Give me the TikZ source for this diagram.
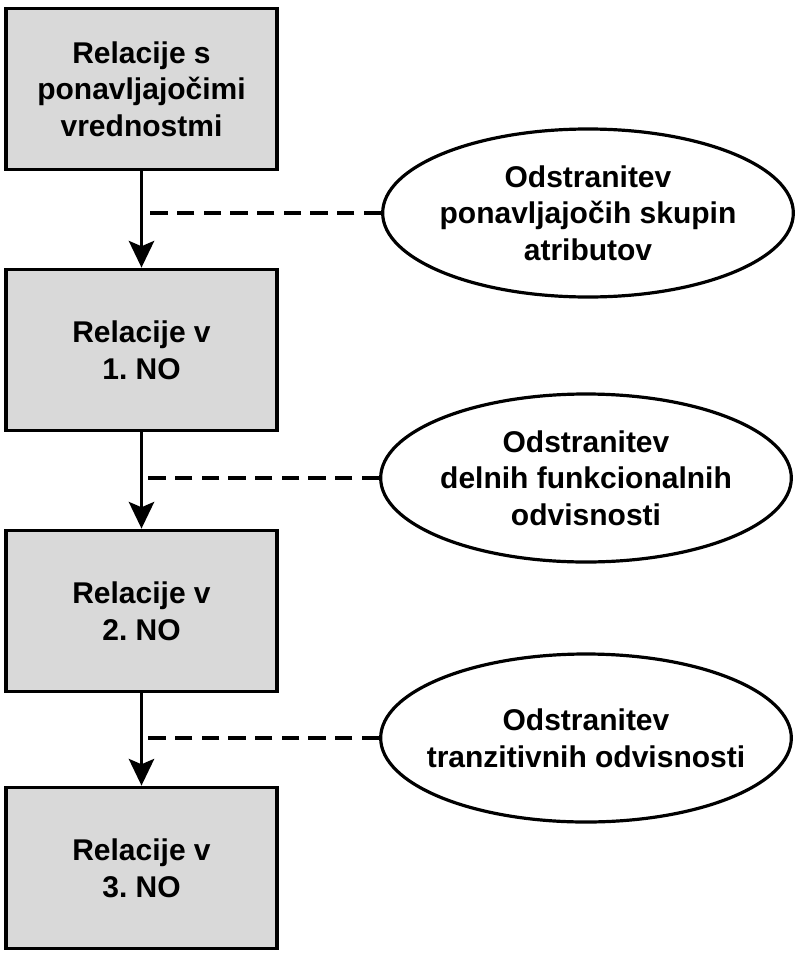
\documentclass[tikz,border=0pt]{standalone}
\usepackage{fontspec}
\setmainfont{Liberation Sans}
\usetikzlibrary{arrows.meta,shapes.geometric}
\definecolor{boxgray}{RGB}{217,217,217}

\begin{document}
\begin{tikzpicture}[x = 0.75pt, y = -0.75pt,
    font = \fontsize{22.5}{27.5}\selectfont\bfseries\frenchspacing,
    relacija/.style = {draw, line width = 2.6pt, fill = boxgray,
        minimum width = 203pt, minimum height = 121pt, align = center, inner sep = 0pt},
    postopek/.style = {draw, ellipse, line width = 2.4pt, fill = white,
        minimum width = 308pt, minimum height = 126pt, align = center,
        inner xsep = -12pt, inner ysep = 0pt},
    korak/.style = {line width = 2.4pt, -{Stealth[length = 20pt, width = 19pt, inset = 4pt]}},
    povezava/.style = {line width = 2.4pt, dash pattern = on 13pt off 7pt}]
    \useasboundingbox (0,0) rectangle (800,960);

    \node [relacija] (rel0) at (141.5,89) {Relacije s\\ponavljajočimi\\vrednostmi};
    \node [relacija] (rel1) at (141.5,350) {Relacije v\\1. NO};
    \node [relacija] (rel2) at (141.5,611) {Relacije v\\2. NO};
    \node [relacija] (rel3) at (141.5,868) {Relacije v\\3. NO};

    \node [postopek] (odst1) at (588,213) {Odstranitev\\ponavljajočih skupin\\atributov};
    \node [postopek] (odst2) at (586,478) {Odstranitev\\delnih funkcionalnih\\odvisnosti};
    \node [postopek] (odst3) at (586,738) {Odstranitev\\tranzitivnih odvisnosti};

    \draw [povezava] (odst1.west) -- (rel0.south |- odst1.west);
    \draw [povezava] (odst2.west) -- (rel1.south |- odst2.west);
    \draw [povezava] (odst3.west) -- (rel2.south |- odst3.west);

    \draw [korak] (rel0) -- (rel1);
    \draw [korak] (rel1) -- (rel2);
    \draw [korak] (rel2) -- (rel3);
\end{tikzpicture}
\end{document}
